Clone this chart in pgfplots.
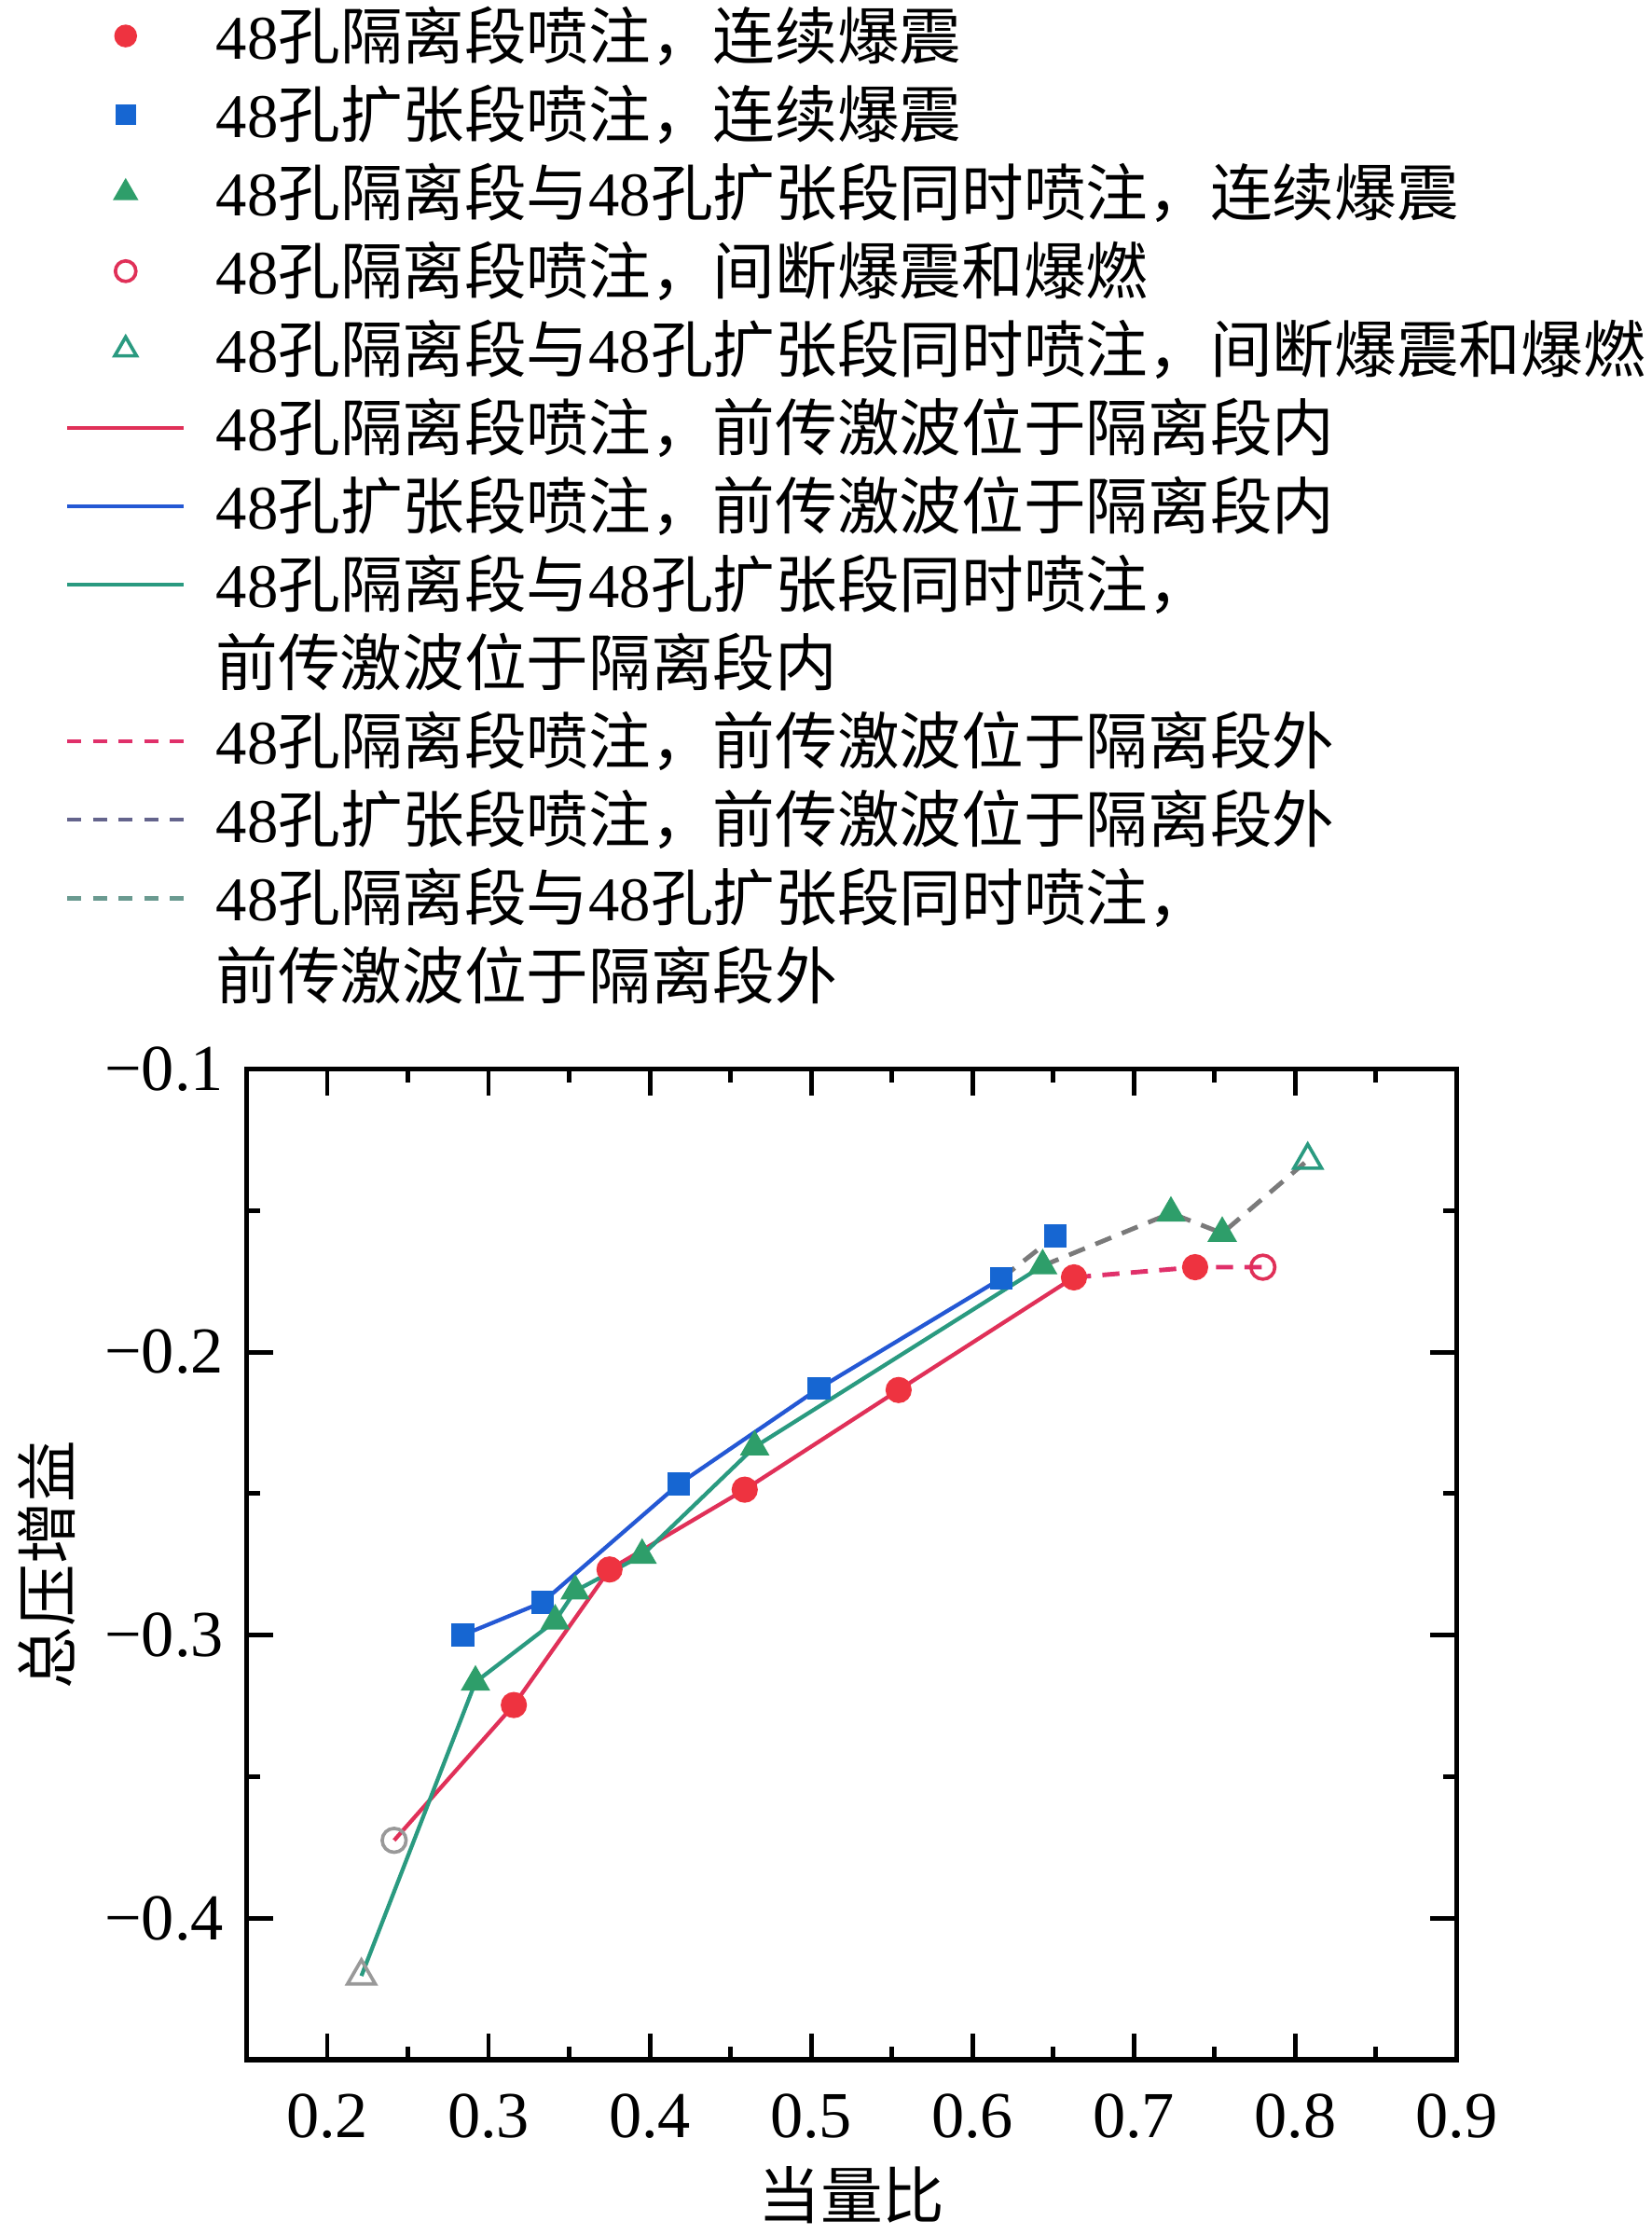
\documentclass[border=0pt]{standalone}
\usepackage{pgfplots}
\pgfplotsset{compat=1.18}
\usepackage{fontspec}
\setmainfont{Liberation Serif}
\newfontfamily\cjk{Noto Sans CJK SC}
\definecolor{mred}{HTML}{EE3340}
\definecolor{lred}{HTML}{E03058}
\definecolor{mblue}{HTML}{1666D2}
\definecolor{lblue}{HTML}{2458D4}
\definecolor{mgreen}{HTML}{2E9E6A}
\definecolor{lgreen}{HTML}{2A9A80}
\definecolor{dred}{HTML}{E0306A}
\definecolor{dblue}{HTML}{64648C}
\definecolor{dgreen}{HTML}{6A9A90}
\definecolor{dgray}{HTML}{7A7A7A}
\begin{document}
\begin{tikzpicture}
\path[use as bounding box] (-43.25pt,-30.75pt) rectangle (246.5pt,361.25pt);
\begin{axis}[
  at={(0,0)}, anchor=south west,
  width=212.25pt, height=173.75pt, scale only axis,
  xmin=0.15, xmax=0.9, ymin=-0.45, ymax=-0.1,
  xtick={0.2,0.3,0.4,0.5,0.6,0.7,0.8,0.9},
  xticklabels={0.2,0.3,0.4,0.5,0.6,0.7,0.8,0.9},
  minor xtick={0.15,0.25,0.35,0.45,0.55,0.65,0.75,0.85},
  ytick={-0.4,-0.3,-0.2,-0.1},
  yticklabels={−0.4,−0.3,−0.2,−0.1},
  minor ytick={-0.45,-0.35,-0.25,-0.15},
  tick align=inside, tick pos=both,
  major tick length=4.6pt, minor tick length=2.3pt,
  every tick/.style={black, line width=0.8pt},
  axis line style={line width=0.85pt},
  tick label style={font=\fontsize{11.5}{13}\selectfont},
  xticklabel style={yshift=-2.5pt},
  yticklabel style={xshift=-0.5pt},
  xlabel={\cjk 当量比}, ylabel={\cjk 总压增益},
  label style={font=\fontsize{10.9}{13}\selectfont},
  xlabel style={at={(axis description cs:0.5,-0.1367)}, anchor=center},
  ylabel style={at={(axis description cs:-0.1649,0.5)}, anchor=center, rotate=0},
  legend style={at={(axis description cs:-0.1508,2.0757)}, anchor=north west,
    draw=none, fill=none, inner sep=0pt, row sep=0pt, column sep=5.25pt,
    font=\fontsize{10.9}{13.75}\selectfont,
    nodes={inner sep=0pt, text height=9.5pt, text depth=4.25pt}},
  legend cell align=left,
  legend style={cells={anchor=base west}},
  legend image code/.code={\draw[mark repeat=2,mark phase=2,#1] plot coordinates {(0pt,4pt) (10.25pt,4pt) (20.5pt,4pt)};},
]
% solid lines
\addplot[forget plot, lred, line width=0.7pt] coordinates {
(0.2415,-0.3725) (0.3157,-0.3247) (0.375,-0.2768) (0.4588,-0.2486) (0.5542,-0.2134) (0.6629,-0.1736)};
\addplot[forget plot, lblue, line width=0.7pt] coordinates {
(0.284,-0.300) (0.3334,-0.2884) (0.418,-0.2466) (0.5048,-0.2128) (0.6178,-0.174)};
\addplot[forget plot, lgreen, line width=0.7pt] coordinates {
(0.2212,-0.4204) (0.2919,-0.3166) (0.3413,-0.295) (0.3537,-0.2844) (0.3952,-0.2718) (0.465,-0.2335) (0.6435,-0.1695)};
% dashed lines
\addplot[forget plot, dred, line width=0.8pt, dash pattern=on 3pt off 2pt] coordinates {
(0.6629,-0.1736) (0.738,-0.170) (0.780,-0.170)};
\addplot[forget plot, dgray, line width=0.8pt, dash pattern=on 3pt off 2pt] coordinates {
(0.6178,-0.174) (0.6514,-0.159)};
\addplot[forget plot, dgray, line width=0.8pt, dash pattern=on 3pt off 2pt] coordinates {
(0.6435,-0.1695) (0.723,-0.1509) (0.7548,-0.158) (0.8078,-0.1322)};
% markers
\addplot[forget plot, only marks, mark=*, mark size=2.1pt, mark options={fill=mred, draw=mred}] coordinates {
(0.3157,-0.3247) (0.375,-0.2768) (0.4588,-0.2486) (0.5542,-0.2134) (0.6629,-0.1736) (0.738,-0.170)};
\addplot[forget plot, only marks, mark=square*, mark size=1.8pt, mark options={fill=mblue, draw=mblue}] coordinates {
(0.284,-0.300) (0.3334,-0.2884) (0.418,-0.2466) (0.5048,-0.2128) (0.6178,-0.174) (0.6514,-0.159)};
\addplot[forget plot, only marks, mark=triangle*, mark size=2.6pt, mark options={fill=mgreen, draw=mgreen}] coordinates {
(0.2919,-0.3166) (0.3413,-0.295) (0.3537,-0.2844) (0.3952,-0.2718) (0.465,-0.2335) (0.6435,-0.1695) (0.723,-0.1509) (0.7548,-0.158)};
\addplot[forget plot, only marks, mark=o, mark size=2.1pt, mark options={draw=lred, fill=white, line width=0.6pt}] coordinates {
(0.780,-0.170)};
\addplot[forget plot, only marks, mark=o, mark size=2.1pt, mark options={draw=gray!80, fill=white, line width=0.6pt}] coordinates {
(0.2415,-0.3725)};
\addplot[forget plot, only marks, mark=triangle, mark size=2.8pt, mark options={draw=lgreen, fill=white, line width=0.6pt}] coordinates {
(0.8078,-0.1322)};
\addplot[forget plot, only marks, mark=triangle, mark size=2.8pt, mark options={draw=gray!80, fill=white, line width=0.6pt}] coordinates {
(0.2212,-0.4204)};
% legend
\addlegendimage{only marks, mark=*, mark size=1.8pt, mark options={fill=mred, draw=mred}}
\addlegendentry{48{\cjk 孔隔离段喷注，连续爆震}}
\addlegendimage{only marks, mark=square*, mark size=1.6pt, mark options={fill=mblue, draw=mblue}}
\addlegendentry{48{\cjk 孔扩张段喷注，连续爆震}}
\addlegendimage{only marks, mark=triangle*, mark size=2.2pt, mark options={fill=mgreen, draw=mgreen}}
\addlegendentry{48{\cjk 孔隔离段与}48{\cjk 孔扩张段同时喷注，连续爆震}}
\addlegendimage{only marks, mark=o, mark size=1.8pt, mark options={draw=lred, line width=0.6pt}}
\addlegendentry{48{\cjk 孔隔离段喷注，间断爆震和爆燃}}
\addlegendimage{only marks, mark=triangle, mark size=2.2pt, mark options={draw=lgreen, line width=0.6pt}}
\addlegendentry{48{\cjk 孔隔离段与}48{\cjk 孔扩张段同时喷注，间断爆震和爆燃}}
\addlegendimage{lred, line width=0.7pt}
\addlegendentry{48{\cjk 孔隔离段喷注，前传激波位于隔离段内}}
\addlegendimage{lblue, line width=0.7pt}
\addlegendentry{48{\cjk 孔扩张段喷注，前传激波位于隔离段内}}
\addlegendimage{lgreen, line width=0.7pt}
\addlegendentry{48{\cjk 孔隔离段与}48{\cjk 孔扩张段同时喷注，}}
\addlegendimage{empty legend}
\addlegendentry{{\cjk 前传激波位于隔离段内}}
\addlegendimage{dred, line width=0.7pt, dash pattern=on 2.5pt off 2pt}
\addlegendentry{48{\cjk 孔隔离段喷注，前传激波位于隔离段外}}
\addlegendimage{dblue, line width=0.7pt, dash pattern=on 2.5pt off 2pt}
\addlegendentry{48{\cjk 孔扩张段喷注，前传激波位于隔离段外}}
\addlegendimage{dgreen, line width=0.7pt, dash pattern=on 2.5pt off 2pt}
\addlegendentry{48{\cjk 孔隔离段与}48{\cjk 孔扩张段同时喷注，}}
\addlegendimage{empty legend}
\addlegendentry{{\cjk 前传激波位于隔离段外}}
\end{axis}
\end{tikzpicture}
\end{document}
